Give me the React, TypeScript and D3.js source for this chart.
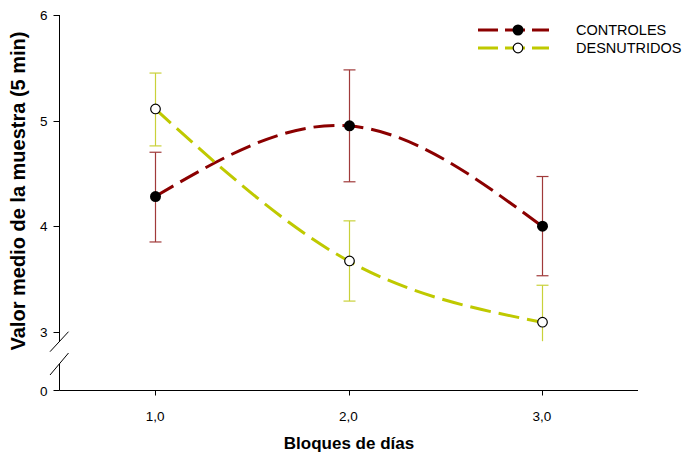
import React from "react";
import * as d3 from "d3";

const blocks = [1, 2, 3];
const controlesMean = [4.28, 4.95, 4.0];
const controlesLow = [3.85, 4.42, 3.53];
const controlesHigh = [4.7, 5.48, 4.47];
const desnutMean = [5.11, 3.67, 3.09];
const desnutLow = [4.76, 3.29, 2.91];
const desnutHigh = [5.45, 4.05, 3.44];
const yTicks = [3, 4, 5, 6];
const xTicks = [1, 2, 3];

const RED = "#8B0000";
const YEL = "#BFC900";
const RED_ERR = "#a03a3a";
const YEL_ERR = "#c9d13a";
const FONT = "Arial, 'Liberation Sans', sans-serif";

export default function App() {
  const W = 684, H = 455;
  const axisX = 59.5, axisY = 390.5;
  const x = d3.scaleLinear().domain([0.5, 3.5]).range([58.5, 638.5]);
  const y = d3.scaleLinear().domain([3, 6]).range([331.7, 15]);
  const yZero = axisY;

  const line = d3.line<number>()
    .x((_, i) => x(blocks[i]))
    .y((d) => y(d))
    .curve(d3.curveNatural);

  const series = [
    { name: "CONTROLES", mean: controlesMean, low: controlesLow, high: controlesHigh, color: RED, err: RED_ERR, filled: true, lowCap: [true, true, true] },
    { name: "DESNUTRIDOS", mean: desnutMean, low: desnutLow, high: desnutHigh, color: YEL, err: YEL_ERR, filled: false, lowCap: [true, true, false] },
  ];

  return (
    <svg width={W} height={H} style={{ position: "absolute", left: 0, top: 0, background: "#fff" }} fontFamily={FONT}>
      {/* Y axis with break */}
      <line x1={axisX} x2={axisX} y1={15} y2={342} stroke="#000" strokeWidth={1} />
      <line x1={axisX} x2={axisX} y1={364} y2={axisY} stroke="#000" strokeWidth={1} />
      <line x1={50} y1={351.7} x2={68.5} y2={331.7} stroke="#000" strokeWidth={1} />
      <line x1={50} y1={375} x2={68.5} y2={353} stroke="#000" strokeWidth={1} />
      {yTicks.map((t) => (
        <g key={t}>
          <line x1={axisX - 6} x2={axisX} y1={Math.round(y(t)) + 0.5} y2={Math.round(y(t)) + 0.5} stroke="#000" />
          <text x={47.5} y={y(t) + 5} textAnchor="end" fontSize={13.5} fill="#000">{t}</text>
        </g>
      ))}
      <line x1={axisX - 6} x2={axisX} y1={yZero} y2={yZero} stroke="#000" />
      <text x={47.5} y={yZero + 5} textAnchor="end" fontSize={13.5} fill="#000">0</text>

      {/* X axis */}
      <line x1={axisX} x2={638} y1={axisY} y2={axisY} stroke="#000" strokeWidth={1.2} />
      {xTicks.map((t) => (
        <g key={t}>
          <line x1={Math.round(x(t)) + 0.5} x2={Math.round(x(t)) + 0.5} y1={axisY} y2={axisY + 5} stroke="#000" />
          <text x={x(t)} y={421} textAnchor="middle" fontSize={13.5} fill="#000">
            {t.toFixed(1).replace(".", ",")}
          </text>
        </g>
      ))}

      {/* Titles */}
      <text x={349} y={449} textAnchor="middle" fontSize={17} fontWeight="bold" fill="#000">Bloques de días</text>
      <text transform={`translate(25,191) rotate(-90)`} textAnchor="middle" fontSize={20} fontWeight="bold" fill="#000">
        Valor medio de la muestra (5 min)
      </text>

      {/* Error bars */}
      {series.map((s) =>
        blocks.map((b, i) => {
          const cx = Math.round(x(b)) + 0.5;
          return (
            <g key={s.name + b}>
              <line x1={cx} x2={cx} y1={y(s.high[i])} y2={y(s.low[i])} stroke={s.err} strokeWidth={1.2} />
              <line x1={cx - 6} x2={cx + 6} y1={y(s.high[i])} y2={y(s.high[i])} stroke={s.err} strokeWidth={1.2} />
              {s.lowCap[i] && (
                <line x1={cx - 6} x2={cx + 6} y1={y(s.low[i])} y2={y(s.low[i])} stroke={s.err} strokeWidth={1.2} />
              )}
            </g>
          );
        })
      )}

      {/* Lines */}
      {series.map((s) => (
        <path key={s.name} d={line(s.mean) || ""} fill="none" stroke={s.color} strokeWidth={3} strokeDasharray="21 8" />
      ))}

      {/* Markers */}
      {series.map((s) =>
        blocks.map((b, i) => (
          <circle key={s.name + "m" + b} cx={Math.round(x(b)) + 0.5} cy={y(s.mean[i])} r={s.filled ? 5.5 : 4.8}
            fill={s.filled ? "#000" : "#fff"} stroke="#000" strokeWidth={s.filled ? 0 : 1.2} />
        ))
      )}

      {/* Legend */}
      {series.map((s, i) => {
        const ly = 30 + i * 18;
        return (
          <g key={s.name + "leg"}>
            <line x1={478} x2={549} y1={ly} y2={ly} stroke={s.color} strokeWidth={3} strokeDasharray="20 7" />
            <circle cx={518} cy={ly} r={s.filled ? 5.5 : 4.8} fill={s.filled ? "#000" : "#fff"} stroke="#000" strokeWidth={s.filled ? 0 : 1.2} />
            <text x={576} y={ly + 5} fontSize={14.5} fill="#000">{s.name}</text>
          </g>
        );
      })}
    </svg>
  );
}
